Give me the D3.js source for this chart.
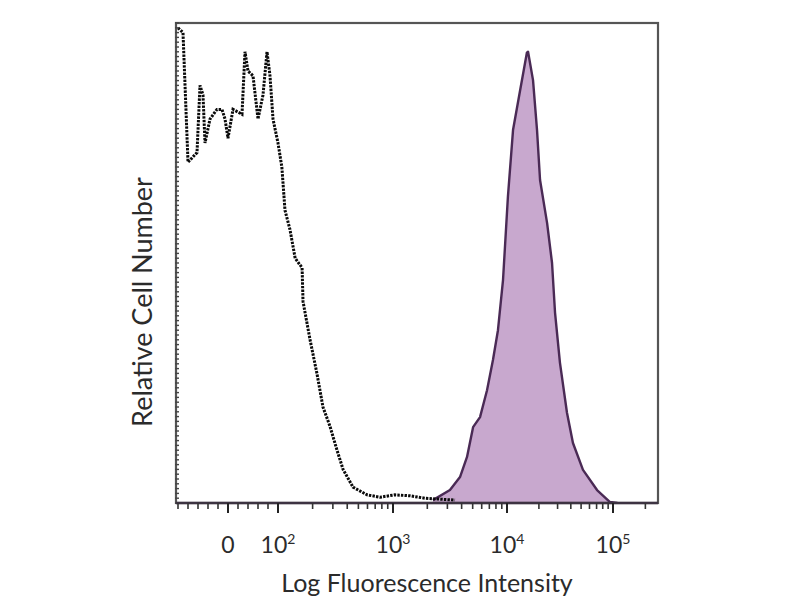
<!DOCTYPE html>
<html>
<head>
<meta charset="utf-8">
<script src="https://cdn.jsdelivr.net/npm/d3@7"></script>
<style>
  body { margin: 0; background: #fff; }
  text { font-family: Lato, "Open Sans", sans-serif; fill: #2b2b2b; }
</style>
</head>
<body>
<div id="chart"></div>
<script>
// unstained control (black dotted), intensity vs relative count
var ctrlX = [-100, -90, -80, -62, -56, -50, -46, -36, -22, -12, -6, 0, 10, 28, 34, 40, 50, 60, 70, 78, 84, 90, 100,
             108, 115, 127, 141, 162, 165, 190, 218, 246, 283, 326, 368, 449, 595, 770, 1040, 1410, 1900, 2580, 3500];
var ctrlY = [99, 98, 71, 73, 87, 85, 75, 80, 82, 82, 80, 76, 82, 81, 94, 90, 89, 80, 85, 94, 89, 80, 75,
             70, 61, 57, 51, 49, 42, 34, 27, 20, 16, 11, 7, 3.3, 1.7, 1.2, 1.7, 1.5, 1.0, 0.8, 0.6];

// stained sample (purple filled)
var stainX = [2240, 3160, 3870, 4460, 5040, 5800, 6680, 7530, 8330, 9230, 10200, 11400, 13300, 15400, 15800,
              17600, 19200, 20500, 23900, 26600, 28400, 31600, 36800, 41900, 52100, 70700, 93700, 110000];
var stainY = [0.6, 2.7, 5.4, 9.6, 15.8, 17.9, 23.5, 29.8, 36, 46.5, 63.8, 77.7, 86, 93.8, 94,
              88.1, 77.7, 67.3, 58.3, 50, 39.6, 29.2, 18.8, 12.5, 6.9, 2.7, 0.2, 0];

var majorTicks = [0, 1e2, 1e3, 1e4, 1e5];
var majorLabels = [["0", ""], ["10", "2"], ["10", "3"], ["10", "4"], ["10", "5"]];
var linMinor = [-100, -80, -60, -40, -20, 20, 40, 60, 80];
var decades = [1e2, 1e3, 1e4, 1e5];

var xLabel = "Log Fluorescence Intensity";
var yLabel = "Relative Cell Number";

document.addEventListener('DOMContentLoaded', function () {
  draw();
}, false);

function draw() {
  var W = 800, H = 600;
  var left = 176, right = 658, top = 23, bottom = 503;

  // biexponential-ish display: linear around zero, log above 100
  var xLin = d3.scaleLinear().domain([-104, 100]).range([left, 278]);
  var xLog = d3.scaleLog().domain([1e2, 1e3, 1e4, 1e5, 262144]).range([278, 393, 507, 613, right]);
  var x = function(v) { return v < 100 ? xLin(v) : xLog(v); };
  var y = d3.scaleLinear().domain([0, 100]).range([bottom, top]);

  var svg = d3.select("#chart").append("svg")
    .attr("width", W).attr("height", H);

  svg.append("defs").append("clipPath").attr("id", "plot")
    .append("rect").attr("x", left).attr("y", top)
    .attr("width", right - left).attr("height", bottom - top);

  var stain = stainX.map(function(v, i) { return [v, stainY[i]]; });
  var ctrl = ctrlX.map(function(v, i) { return [v, ctrlY[i]]; });

  var area = d3.area()
    .x(function(d) { return x(d[0]); })
    .y0(y(0))
    .y1(function(d) { return y(d[1]); });
  var line = d3.line()
    .x(function(d) { return x(d[0]); })
    .y(function(d) { return y(d[1]); });

  var g = svg.append("g").attr("clip-path", "url(#plot)");

  g.append("path").datum(stain)
    .attr("d", area)
    .attr("fill", "#c8a8ce");
  g.append("path").datum(stain)
    .attr("d", line)
    .attr("fill", "none")
    .attr("stroke", "#4a2a55")
    .attr("stroke-width", 2.4)
    .attr("stroke-linejoin", "round");

  g.append("path").datum(ctrl)
    .attr("d", line)
    .attr("fill", "none")
    .attr("stroke", "#0a0a0a")
    .attr("stroke-width", 3)
    .attr("stroke-dasharray", "2.4 1.2");

  // frame
  svg.append("rect")
    .attr("x", left).attr("y", top)
    .attr("width", right - left).attr("height", bottom - top)
    .attr("fill", "none")
    .attr("stroke", "#555")
    .attr("stroke-width", 2.2);

  // dense y ticks along left edge
  svg.append("g").selectAll("line")
    .data(d3.range(0, 101))
    .enter().append("line")
    .attr("x1", left - 1).attr("x2", left + 3)
    .attr("y1", function(d) { return y(d); })
    .attr("y2", function(d) { return y(d); })
    .attr("stroke", "#444")
    .attr("stroke-width", 1.4);

  // bottom axis
  svg.append("line")
    .attr("x1", left).attr("x2", right)
    .attr("y1", bottom).attr("y2", bottom)
    .attr("stroke", "#3d3342").attr("stroke-width", 2.4);

  var minor = linMinor.slice();
  decades.forEach(function(d) {
    for (var m = 2; m <= 9; m++) {
      if (d * m <= 262144) minor.push(d * m);
    }
  });

  svg.append("g").selectAll("line")
    .data(minor)
    .enter().append("line")
    .attr("x1", function(d) { return x(d); })
    .attr("x2", function(d) { return x(d); })
    .attr("y1", bottom).attr("y2", bottom + 6)
    .attr("stroke", "#333").attr("stroke-width", 1.6);

  svg.append("g").selectAll("line")
    .data(majorTicks)
    .enter().append("line")
    .attr("x1", function(d) { return x(d); })
    .attr("x2", function(d) { return x(d); })
    .attr("y1", bottom).attr("y2", bottom + 10)
    .attr("stroke", "#222").attr("stroke-width", 2);

  var labels = svg.append("g").selectAll("text")
    .data(majorTicks)
    .enter().append("text")
    .attr("x", function(d) { return x(d); })
    .attr("y", 553)
    .attr("text-anchor", "middle")
    .style("font-size", "23px");
  labels.append("tspan")
    .text(function(d, i) { return majorLabels[i][0]; });
  labels.append("tspan")
    .attr("dy", -9)
    .style("font-size", "14px")
    .text(function(d, i) { return majorLabels[i][1]; });

  svg.append("text")
    .attr("x", 427).attr("y", 592)
    .attr("text-anchor", "middle")
    .style("font-size", "25px")
    .text(xLabel);

  svg.append("text")
    .attr("transform", "translate(152,302) rotate(-90)")
    .attr("text-anchor", "middle")
    .style("font-size", "27px")
    .text(yLabel);
}
</script>
</body>
</html>
